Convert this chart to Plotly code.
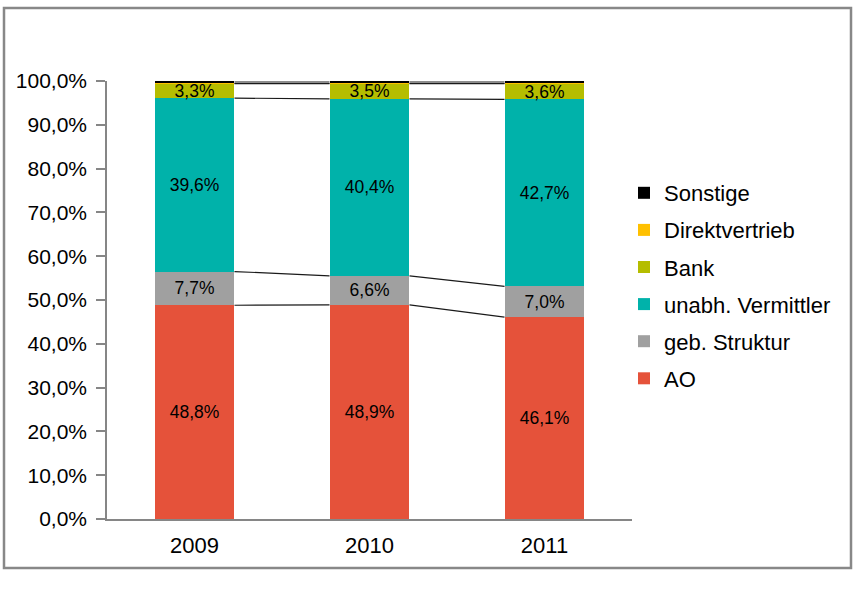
import plotly.graph_objects as go

years = ["2009", "2010", "2011"]
series_names = ["AO", "geb. Struktur", "unabh. Vermittler", "Bank", "Direktvertrieb", "Sonstige"]
ao = [48.8, 48.9, 46.1]
geb = [7.7, 6.6, 7.0]
unabh = [39.6, 40.4, 42.7]
bank = [3.3, 3.5, 3.6]
direkt = [0.1, 0.1, 0.1]
sonstige = [0.5, 0.5, 0.5]
colors = ["#E5523A", "#A0A0A0", "#00B2AA", "#B5BD00", "#FFC000", "#000000"]
show_labels = [True, True, True, True, False, False]

values = [ao, geb, unabh, bank, direkt, sonstige]
xs = list(range(len(years)))
bar_w = 0.457

fig = go.Figure()
cum = [0.0] * len(years)
boundaries = []
n = len(series_names)
for k, (name, vals, col, lab) in enumerate(zip(series_names, values, colors, show_labels)):
    fig.add_trace(go.Bar(
        x=xs, y=vals, name=name, width=bar_w,
        marker=dict(color=col, line=dict(width=0)),
        text=[("%.1f%%" % v).replace(".", ",") for v in vals] if lab else None,
        textposition="inside" if lab else "none",
        insidetextanchor="middle",
        constraintext="none",
        textfont=dict(family="Liberation Sans, Arial", size=17.5, color="#000000"),
        legendgroup=name,
        legendrank=(n - k) * 10,
        hoverinfo="name+y",
    ))
    cum = [c + v for c, v in zip(cum, vals)]
    boundaries.append(list(cum))

# series lines between bars
for b in boundaries:
    for i in range(len(years) - 1):
        fig.add_trace(go.Scatter(
            x=[xs[i] + bar_w / 2, xs[i + 1] - bar_w / 2],
            y=[b[i], b[i + 1]],
            mode="lines", line=dict(color="#1a1a1a", width=1.2),
            showlegend=False, hoverinfo="skip",
        ))

L, R, T, B = 107, 226, 81, 81
pw = 858 - L - R
ph = 600 - T - B

def px_x(p):
    return (p - L) / pw

def px_y(p):
    return (600 - B - p) / ph

fig.update_layout(
    width=858, height=600,
    margin=dict(l=L, r=R, t=T, b=B, pad=0),
    barmode="stack",
    plot_bgcolor="white", paper_bgcolor="white",
    font=dict(family="Liberation Sans, Arial", size=21, color="#000000"),
    showlegend=True,
    legend=dict(
        x=px_x(624), y=px_y(172), xanchor="left", yanchor="top",
        traceorder="grouped", tracegroupgap=5.5,
        font=dict(size=22), bgcolor="rgba(0,0,0,0)",
    ),
    xaxis=dict(
        range=[-0.5, 2.5], tickvals=xs, ticktext=years,
        showline=True, linecolor="#868686", linewidth=1.5,
        showgrid=False, zeroline=False, ticks="",
        tickfont=dict(size=22), ticklabelstandoff=6,
    ),
    yaxis=dict(
        range=[0, 100], dtick=10, tickformat=".1f", ticksuffix="%",
        showline=True, linecolor="#868686", linewidth=1.5,
        ticks="outside", ticklen=9, tickcolor="#868686", tickwidth=1.5,
        showgrid=False, zeroline=False,
        tickfont=dict(size=21), ticklabelstandoff=5,
    ),
    separators=",.",
    shapes=[dict(
        type="rect", xref="paper", yref="paper",
        x0=px_x(4), x1=px_x(851), y0=px_y(568), y1=px_y(8),
        line=dict(color="#888888", width=2.5), fillcolor="rgba(0,0,0,0)",
        layer="below",
    )],
)

fig.write_html("out.html", config={"displayModeBar": False},
               post_script="document.body.style.margin='0';")
